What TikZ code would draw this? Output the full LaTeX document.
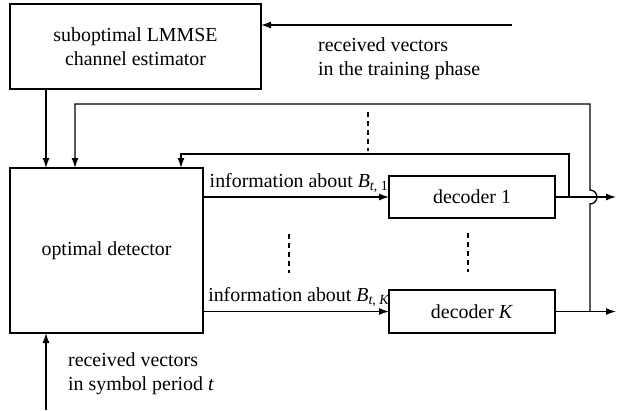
\documentclass[tikz,border=0pt]{standalone}
\usepackage{fontspec}
\setmainfont{Liberation Serif}
\usetikzlibrary{arrows.meta}
\begin{document}
\begin{tikzpicture}[x=1pt,y=-1pt,
  every node/.style={font=\rmfamily\fontsize{19.9}{24}\selectfont},
  blk/.style={draw,line width=1.3pt,rectangle,inner sep=0pt,outer sep=0pt,align=center},
  arr/.style={line width=1.3pt,-{Latex[length=10pt,width=7pt]}},
  dsh/.style={line width=1.3pt,dash pattern=on 5pt off 4pt},
  lbl/.style={align=left,inner sep=0pt}]
\useasboundingbox (0,0) rectangle (620,410);
% blocks
\node[blk,minimum width=251pt,minimum height=85pt] (est) at (135.5,46.5) {suboptimal LMMSE\\channel estimator};
\node[blk,minimum width=193pt,minimum height=165pt] (det) at (106.5,250.5) {optimal detector};
\node[blk,minimum width=166pt,minimum height=42pt] (dec1) at (472,197) {decoder 1};
\node[blk,minimum width=166pt,minimum height=43pt] (decK) at (472,311.5) {decoder \textit{K}};
% labels
\node[lbl,anchor=west] (ltr) at (318,59) {received vectors\\in the training phase};
\node[lbl,anchor=west] (lsy) at (68,373.5) {received vectors\\in symbol period \textit{t}};
% coordinates
\coordinate (tin) at (512,25);
\coordinate (bin) at (46,410);
\coordinate (o1) at (616,197);
\coordinate (oK) at (616,311.5);
\coordinate (j1) at (569,197);
\coordinate (jK) at (590,311.5);
% inputs
\draw[arr] (tin) -- (tin -| est.east);
\draw[arr] (bin) -- (bin |- det.south);
\draw[arr] ([xshift=36pt]est.south west) -- ([xshift=36pt]det.north west);
% detector to decoders
\draw[arr] (det.east |- dec1) -- node[above,inner sep=4pt,xshift=3pt] (l1) {information about \textit{B}\textsubscript{\textit{t}, 1}} (dec1.west);
\draw[arr] (det.east |- decK) -- node[above,inner sep=4pt,xshift=3pt] (lK) {information about \textit{B}\textsubscript{\textit{t}, \textit{K}}} (decK.west);
% outputs
\draw[arr] (dec1.east) -- (o1);
\draw[arr] (decK.east) -- (oK);
% feedback
\draw[arr] (j1) -- (569,154) -- (181,154) -- (181,168);
\draw[arr] (jK) -- (590,204) arc[start angle=90,end angle=-90,radius=7] -- (590,104) -- (75,104) -- (75,168);
% dashed ellipses
\draw[dsh] (368,112) -- (368,151);
\draw[dsh] (289,234) -- (289,273);
\draw[dsh] (468,233) -- (468,272);
\end{tikzpicture}
\end{document}
